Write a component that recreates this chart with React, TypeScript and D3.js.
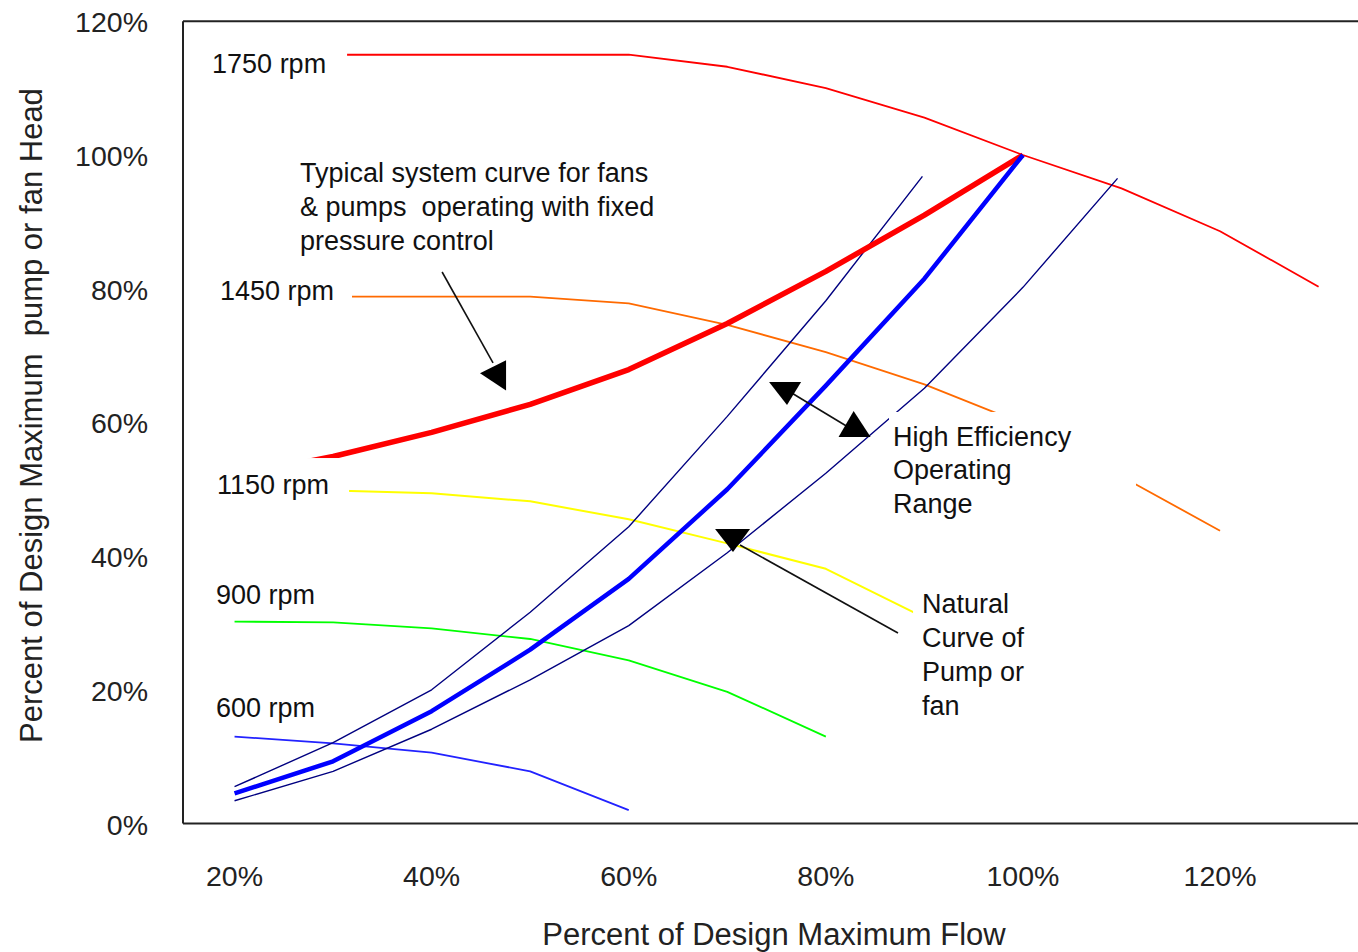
import React from 'react';
import * as d3 from 'd3';

// ---------- data (percent of design maximum) ----------
const flowTicks = [20, 40, 60, 80, 100, 120];
const headTicks = [0, 20, 40, 60, 80, 100, 120];

const flowAll = [20, 30, 40, 50, 60, 70, 80, 90, 100, 110, 120, 130];
const rpm1750 = [115, 115, 115, 115, 115, 113.2, 110, 105.6, 100, 95, 88.6, 80.3];
const rpm1450 = [78.8, 78.8, 78.8, 78.8, 77.8, 74.6, 70.5, 65.7, 59.8, 51.9, 43.8];
const rpm1150 = [49.8, 49.8, 49.4, 48.2, 45.5, 41.9, 38.1, 30.8];
const rpm900 = [30.2, 30.1, 29.2, 27.6, 24.4, 19.7, 13.0];
const rpm600 = [13.0, 12.0, 10.6, 7.8, 2.0];
const systemCurve = [52.0, 54.9, 58.5, 62.7, 67.9, 74.8, 82.6, 91.0, 100];
const naturalCurve = [4.5, 9.3, 16.8, 26.0, 36.6, 50.0, 65.5, 81.5, 100];
const rangeUpperFlow = [20, 30, 40, 50, 60, 70, 80, 89.8];
const rangeUpper = [5.5, 12.1, 20.0, 31.6, 44.4, 60.9, 78.2, 96.8];
const rangeLowerFlow = [20, 30, 40, 50, 60, 70, 80, 90, 100, 109.6];
const rangeLower = [3.4, 7.8, 14.1, 21.5, 29.6, 40.5, 52.4, 65.1, 80.2, 96.5];

const rpmLabels = ['1750 rpm', '1450 rpm', '1150 rpm', '900 rpm', '600 rpm'];

// annotation anchors in data units [flow, head]
const rpmLabelPos = [[17.72, 112.27], [18.53, 78.31], [18.22, 49.29], [18.12, 32.83], [18.12, 15.93]];
const rpmLabelBoxes = [
  [17.01, 31.42, 117.8, 109.72],
  [17.01, 31.92, 83.55, 75.62],
  [17.01, 31.62, 54.67, 46.9],
];
const systemText = ['Typical system curve for fans', '& pumps  operating with fixed', 'pressure control'];
const systemTextPos = [26.65, 95.96];
const systemArrow = [[41.06, 82.5], [46.23, 68.89]];
const systemHead = [[44.91, 67.34], [47.55, 69.28], [47.55, 64.79]];

const effText = ['High Efficiency', 'Operating', 'Range'];
const effTextPos = [86.82, 56.47];
const effBox = [86.41, 111.47, 61.56, 43.9];
const effArrow = [[76.37, 64.55], [82.25, 59.31]];
const effHead1 = [[74.24, 66.06], [77.49, 66.06], [76.06, 62.62]];
const effHead2 = [[81.29, 57.82], [84.54, 57.82], [82.82, 61.71]];

const natText = ['Natural', 'Curve of', 'Pump or', 'fan'];
const natTextPos = [89.76, 31.49];
const natBox = [88.85, 101.74, 35.23, 14.73];
const natArrow = [[87.32, 28.5], [71.29, 41.66]];
const natHead = [[68.76, 44.05], [72.31, 44.05], [70.58, 40.61]];

const xTitle = 'Percent of Design Maximum Flow';
const yTitle = 'Percent of Design Maximum  pump or fan Head';

export default function App() {
  const W = 1358, H = 952;
  const x = d3.scaleLinear().domain([14.77, 134.77]).range([183, 183 + 120 * 9.855]);
  const y = d3.scaleLinear().domain([0, 120]).range([823.5, 21.3]);
  const font = 'Liberation Sans, Arial, sans-serif';
  const line = d3.line<[number, number]>().x(d => x(d[0])).y(d => y(d[1]));
  const zip = (xs: number[], ys: number[]) => ys.map((v, i) => [xs[i], v] as [number, number]);

  const series = [
    { pts: zip(flowAll, rpm1750), color: '#ff0000', w: 1.8 },
    { pts: zip(flowAll, rpm1450), color: '#ff6a00', w: 1.8 },
    { pts: zip(flowAll, rpm1150), color: '#ffff00', w: 2 },
    { pts: zip(flowAll, rpm900), color: '#00ff00', w: 1.8 },
    { pts: zip(flowAll, rpm600), color: '#2222ff', w: 1.8 },
    { pts: zip(rangeUpperFlow, rangeUpper), color: '#000080', w: 1.4 },
    { pts: zip(rangeLowerFlow, rangeLower), color: '#000080', w: 1.4 },
    { pts: zip(flowAll, systemCurve), color: '#ff0000', w: 5.5 },
    { pts: zip(flowAll, naturalCurve), color: '#0000ff', w: 4.5 },
  ];

  const poly = (p: number[][]) => p.map(d => `${x(d[0])},${y(d[1])}`).join(' ');
  const box = (b: number[], k: string) => (
    <rect key={k} x={x(b[0])} y={y(b[2])} width={x(b[1]) - x(b[0])} height={y(b[3]) - y(b[2])} fill="#fff" />
  );
  const multi = (lines: string[], pos: number[], gap: number, k: string) => (
    <text key={k} x={x(pos[0])} y={y(pos[1])} fontSize={27} fill="#111" style={{ whiteSpace: 'pre' }}>
      {lines.map((t, i) => (
        <tspan key={i} x={x(pos[0])} y={y(pos[1]) + i * gap}>{t}</tspan>
      ))}
    </text>
  );
  const arrowLine = (a: number[][], k: string) => (
    <line key={k} x1={x(a[0][0])} y1={y(a[0][1])} x2={x(a[1][0])} y2={y(a[1][1])} stroke="#111" strokeWidth={1.6} />
  );

  const x0 = x.range()[0], x1 = x.range()[1];
  const yTop = y(120), yBot = y(0);

  return (
    <div style={{ position: 'absolute', left: 0, top: 0 }}>
      <svg width={W} height={H} style={{ display: 'block', background: '#fff', fontFamily: font }}>
        <rect x={0} y={0} width={W} height={H} fill="#fff" />
        <defs>
          <clipPath id="plot">
            <rect x={x0} y={yTop} width={x1 - x0} height={yBot - yTop} />
          </clipPath>
        </defs>

        <g clipPath="url(#plot)">
          {series.map((s, i) => (
            <path key={i} d={line(s.pts) || ''} fill="none" stroke={s.color} strokeWidth={s.w} strokeLinejoin="round" />
          ))}
        </g>

        {/* white text boxes that mask lines */}
        {rpmLabelBoxes.map((b, i) => box(b, 'rb' + i))}
        {box(effBox, 'eb')}
        {box(natBox, 'nb')}

        {/* frame */}
        <line x1={x0} y1={yTop} x2={x1} y2={yTop} stroke="#222" strokeWidth={2} />
        <line x1={x0} y1={yBot} x2={x1} y2={yBot} stroke="#222" strokeWidth={2} />
        <line x1={x0} y1={yTop} x2={x0} y2={yBot} stroke="#222" strokeWidth={2} />

        {/* ticks */}
        {headTicks.map(t => (
          <text key={'h' + t} x={148} y={y(t) + 11} textAnchor="end" fontSize={28.5} fill="#222">{t + '%'}</text>
        ))}
        {flowTicks.map(t => (
          <text key={'f' + t} x={x(t)} y={886} textAnchor="middle" fontSize={28.5} fill="#222">{t + '%'}</text>
        ))}

        {/* axis titles */}
        <text x={x(74.74)} y={945} textAnchor="middle" fontSize={31} fill="#222" style={{ whiteSpace: 'pre' }}>{xTitle}</text>
        <text transform={`translate(42,415.5) rotate(-90)`} textAnchor="middle" fontSize={31} fill="#222" style={{ whiteSpace: 'pre' }}>{yTitle}</text>

        {/* rpm labels */}
        {rpmLabels.map((t, i) => (
          <text key={'l' + i} x={x(rpmLabelPos[i][0])} y={y(rpmLabelPos[i][1])} fontSize={27} fill="#111">{t}</text>
        ))}

        {/* annotations */}
        {multi(systemText, systemTextPos, 34, 'st')}
        {arrowLine(systemArrow, 'sa')}
        <polygon points={poly(systemHead)} fill="#000" />

        {multi(effText, effTextPos, 33.5, 'et')}
        {arrowLine(effArrow, 'ea')}
        <polygon points={poly(effHead1)} fill="#000" />
        <polygon points={poly(effHead2)} fill="#000" />

        {multi(natText, natTextPos, 34, 'nt')}
        {arrowLine(natArrow, 'na')}
        <polygon points={poly(natHead)} fill="#000" />
      </svg>
    </div>
  );
}
